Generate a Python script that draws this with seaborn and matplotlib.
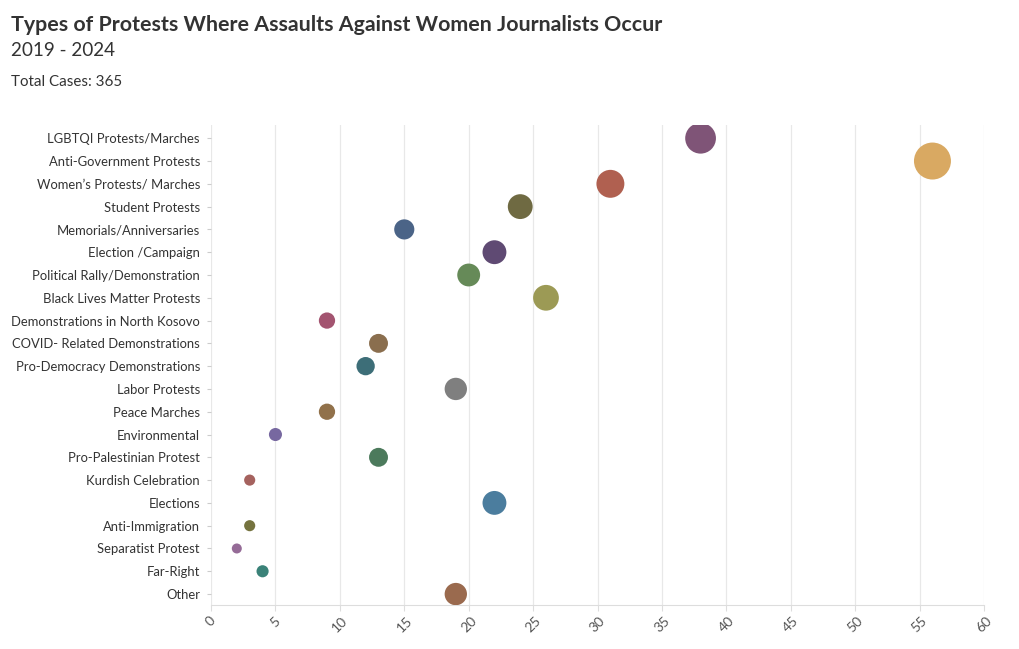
import matplotlib
matplotlib.use("Agg")
import matplotlib.pyplot as plt
import seaborn as sns
import pandas as pd

# ---------------------------------------------------------------------------
# Data
# ---------------------------------------------------------------------------
CATEGORIES = [
    "LGBTQI Protests/Marches",
    "Anti-Government Protests",
    "Women\u2019s Protests/ Marches",
    "Student Protests",
    "Memorials/Anniversaries",
    "Election /Campaign",
    "Political Rally/Demonstration",
    "Black Lives Matter Protests",
    "Demonstrations in North Kosovo",
    "COVID- Related Demonstrations",
    "Pro-Democracy Demonstrations",
    "Labor Protests",
    "Peace Marches",
    "Environmental",
    "Pro-Palestinian Protest",
    "Kurdish Celebration",
    "Elections",
    "Anti-Immigration",
    "Separatist Protest",
    "Far-Right",
    "Other",
]
CASES = [38, 56, 31, 24, 15, 22, 20, 26, 9, 13, 12, 19, 9, 5, 13, 3, 22, 3, 2, 4, 19]

COLORS = [
    "#7f5477", "#d9a962", "#b06050", "#6f6a42", "#4b6487", "#5f4a73",
    "#668a58", "#9c9a55", "#a35470", "#8a6e4e", "#3d6e78", "#7f7f7f",
    "#91714a", "#7768a0", "#4c7a5c", "#a5625e", "#4b7d9e", "#75733f",
    "#956b97", "#3a8278", "#9a6a4e",
]
X_TICKS = list(range(0, 61, 5))

TEXT = "#333333"

plt.rcParams.update({
    "font.family": ["Lato", "DejaVu Sans"],
})

df = pd.DataFrame({"category": CATEGORIES, "cases": CASES})

fig = plt.figure(figsize=(10.20, 6.49), dpi=100)
ax = fig.add_axes([0.2069, 0.0678, 0.7578, 0.7392])

sns.scatterplot(
    data=df, x="cases", y="category", hue="category", size="cases",
    palette=dict(zip(CATEGORIES, COLORS)), sizes=(52, 709), size_norm=(2, 56),
    legend=False, linewidth=0, alpha=1.0, ax=ax, zorder=3,
)

ax.set_xlim(0, 60)
ax.set_ylim(len(CATEGORIES) - 0.52, -0.57)
ax.set_xticks(X_TICKS)
ax.set_xticklabels([str(t) for t in X_TICKS], rotation=45, ha="center",
                   fontsize=10, color="#555555")
ax.tick_params(axis="y", labelsize=9.4, labelcolor=TEXT, length=3,
               color="#cccccc", pad=5)
ax.tick_params(axis="x", length=4, color="#dddddd", pad=3)
ax.grid(axis="x", color="#e8e8e8", linewidth=0.9)
ax.set_axisbelow(True)
for side in ["top", "right", "left"]:
    ax.spines[side].set_visible(False)
ax.spines["bottom"].set_color("#dddddd")
ax.set_xlabel("")
ax.set_ylabel("")

fig.text(0.011, 0.962, "Types of Protests Where Assaults Against Women Journalists Occur",
         fontsize=15.4, fontweight="bold", color=TEXT, va="center")
fig.text(0.011, 0.922, "2019 - 2024", fontsize=13.6, color=TEXT, va="center")
fig.text(0.011, 0.874, "Total Cases: 365", fontsize=10.9, color=TEXT, va="center")

fig.savefig("out.png", dpi=100)
